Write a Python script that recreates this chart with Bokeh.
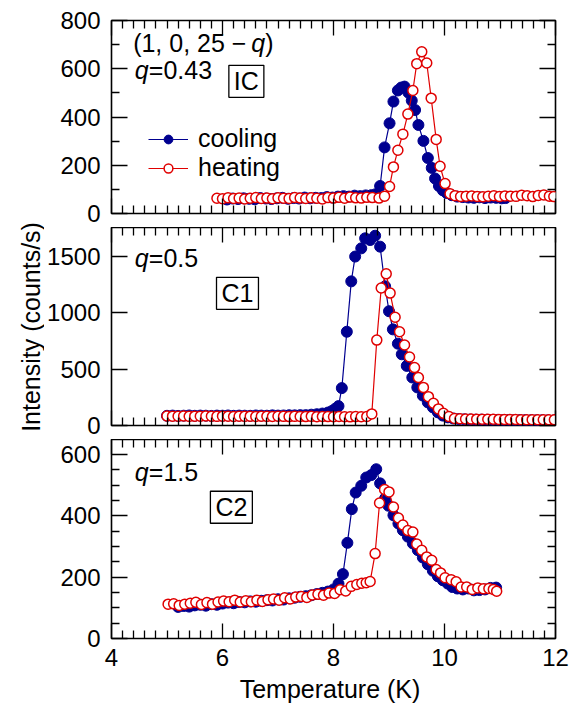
import math
from bokeh.plotting import figure
from bokeh.layouts import column, row
from bokeh.models import Range1d, LinearAxis, FixedTicker, Label, Legend, LegendItem
from bokeh.embed import file_html
from bokeh.resources import INLINE

# ---------------- data ----------------
# panel 1: (1, 0, 25-q), q = 0.43 (IC)
T_c1 = [6.08, 6.18, 6.28, 6.38, 6.48, 6.58, 6.68, 6.78, 6.88, 6.98, 7.08, 7.18, 7.28, 7.38, 7.48,
        7.58, 7.68, 7.78, 7.88, 7.98, 8.08, 8.18, 8.28, 8.38, 8.48, 8.58, 8.68, 8.76,
        8.84, 8.92, 9.01, 9.08, 9.16, 9.22, 9.28, 9.35, 9.41, 9.47, 9.53, 9.62, 9.70, 9.77, 9.83,
        9.90, 9.97, 10.04, 10.13, 10.23, 10.33, 10.43, 10.53, 10.63, 10.73, 10.83, 10.93, 11.03, 11.10]
I_c1 = [58, 62, 60, 63, 61, 59, 64, 62, 60, 63, 65, 61, 64, 62, 66,
        63, 65, 64, 68, 66, 70, 72, 70, 74, 72, 75, 76, 80,
        114, 274, 374, 464, 510, 522, 526, 501, 468, 429, 367, 301, 230, 189, 145,
        114, 96, 85, 76, 70, 68, 66, 65, 67, 64, 66, 65, 63, 64]
T_h1 = [5.90, 6.00, 6.10, 6.20, 6.30, 6.40, 6.50, 6.60, 6.70, 6.80, 6.90, 7.00, 7.10, 7.20, 7.30,
        7.40, 7.50, 7.60, 7.70, 7.80, 7.90, 8.00, 8.10, 8.20, 8.30, 8.40, 8.50, 8.60, 8.70, 8.82,
        8.92, 9.01, 9.08, 9.16, 9.25, 9.34, 9.43, 9.50, 9.59, 9.68, 9.76, 9.85, 9.92, 10.01, 10.10,
        10.19, 10.29, 10.39, 10.49, 10.59, 10.69, 10.79, 10.89, 10.99, 11.09, 11.19, 11.29, 11.39,
        11.49, 11.59, 11.69, 11.79, 11.89, 11.97]
I_h1 = [63, 61, 65, 62, 64, 60, 63, 66, 62, 64, 61, 65, 63, 62, 66,
        64, 62, 65, 63, 60, 66, 64, 67, 63, 68, 65, 64, 67, 66, 64,
        72, 112, 193, 262, 329, 412, 510, 621, 670, 624, 478, 307, 196, 124, 82,
        74, 70, 72, 73, 70, 69, 72, 74, 70, 73, 72, 71, 76,
        74, 70, 75, 77, 72, 70]

# panel 2: q = 0.5 (C1)
T_c2 = [5.0, 5.1, 5.2, 5.3, 5.4, 5.5, 5.6, 5.7, 5.8, 5.9, 6.0, 6.1, 6.2, 6.3, 6.4, 6.5, 6.6, 6.7,
        6.8, 6.9, 7.0, 7.1, 7.2, 7.3, 7.4,
        7.50, 7.60, 7.70, 7.80, 7.90, 7.97, 8.03, 8.09, 8.15, 8.24, 8.32, 8.39, 8.50, 8.57, 8.66,
        8.75, 8.84, 8.93, 9.00, 9.07, 9.16, 9.23, 9.32, 9.42, 9.51, 9.61, 9.70, 9.79, 9.88, 9.97,
        10.06, 10.16,
        10.26, 10.36, 10.46, 10.56, 10.66, 10.76, 10.86, 10.96, 11.06, 11.16, 11.26, 11.36, 11.46,
        11.56, 11.66, 11.76, 11.86, 11.98]
I_c2 = [86, 88, 85, 87, 89, 86, 88, 87, 85, 88, 87, 89, 86, 88, 87, 86, 89, 88,
        87, 90, 88, 89, 91, 90, 92,
        92, 96, 100, 106, 115, 128, 148, 172, 332, 832, 1279, 1499, 1572, 1661, 1646,
        1684, 1587, 1235, 1014, 853, 726, 632, 529, 426, 338, 265, 205, 161, 117, 88,
        72, 62,
        57, 55, 53, 52, 52, 51, 50, 50, 49, 49, 48, 48, 48,
        47, 47, 47, 46, 46]
T_h2 = [5.0, 5.1, 5.2, 5.3, 5.4, 5.5, 5.6, 5.7, 5.8, 5.9, 6.0, 6.1, 6.2, 6.3, 6.4, 6.5, 6.6, 6.7,
        6.8, 6.9, 7.0, 7.1, 7.2, 7.3, 7.4, 7.5, 7.6, 7.7, 7.8, 7.9, 8.0, 8.1, 8.2, 8.3, 8.4, 8.5, 8.6,
        8.69, 8.78, 8.86, 8.95, 9.02, 9.11, 9.19, 9.28, 9.37, 9.46, 9.53, 9.62, 9.71, 9.80, 9.89,
        9.98, 10.08, 10.18,
        10.28, 10.38, 10.48, 10.58, 10.68, 10.78, 10.88, 10.98, 11.08, 11.18, 11.28, 11.38, 11.48,
        11.58, 11.68, 11.78, 11.88, 11.98]
I_h2 = [84, 83, 82, 84, 81, 83, 82, 84, 82, 81, 83, 82, 80, 82, 81, 83, 80, 82,
        81, 80, 82, 81, 79, 81, 80, 79, 81, 78, 80, 79, 78, 80, 78, 77, 79, 78, 80,
        103, 758, 1220, 1346, 1175, 961, 832, 714, 608, 514, 426, 338, 256, 197, 147,
        108, 79, 62,
        60, 58, 57, 56, 56, 55, 55, 54, 54, 53, 53, 52, 52,
        52, 51, 51, 50, 50]

# panel 3: q = 1.5 (C2)
T_c3 = [5.20, 5.30, 5.40, 5.50, 5.60, 5.70, 5.80, 5.90, 6.00, 6.10, 6.20, 6.30, 6.40, 6.50, 6.60,
        6.70, 6.80, 6.90, 7.00, 7.10, 7.20, 7.30, 7.40, 7.50, 7.60, 7.70, 7.80, 7.90, 8.00,
        8.09, 8.17, 8.25, 8.33, 8.40, 8.50, 8.59, 8.68, 8.77, 8.84, 8.93, 8.99, 9.08, 9.17, 9.25,
        9.34, 9.43, 9.52, 9.61, 9.70, 9.79, 9.88, 9.97, 10.06, 10.14,
        10.23, 10.33, 10.43, 10.53, 10.63, 10.73, 10.83, 10.93]
I_c3 = [103, 106, 104, 108, 110, 107, 112, 110, 114, 117, 115, 119, 118, 121, 120,
        123, 125, 124, 128, 127, 131, 133, 136, 138, 141, 145, 149, 153, 160,
        179, 210, 312, 422, 476, 498, 525, 533, 552, 506, 457, 433, 402, 375, 353,
        332, 310, 288, 264, 242, 221, 203, 190, 179, 168,
        163, 160, 163, 157, 158, 160, 165, 166]
T_h3 = [5.02, 5.12, 5.22, 5.32, 5.42, 5.52, 5.62, 5.72, 5.82, 5.92, 6.02, 6.12, 6.22, 6.32, 6.42,
        6.52, 6.62, 6.72, 6.82, 6.92, 7.02, 7.12, 7.22, 7.32, 7.42, 7.52, 7.62, 7.72, 7.82, 7.92,
        8.02, 8.12, 8.22, 8.32, 8.42,
        8.51, 8.59, 8.66, 8.75, 8.83, 8.92, 9.00, 9.08, 9.17, 9.25, 9.34, 9.43, 9.50, 9.59, 9.68,
        9.77, 9.85, 9.93, 10.01, 10.12, 10.21, 10.30, 10.40, 10.50, 10.60, 10.70, 10.80, 10.88, 10.94]
I_h3 = [112, 113, 108, 112, 115, 118, 111, 117, 112, 119, 122, 120, 125, 119, 123,
        120, 125, 121, 126, 129, 125, 133, 129, 135, 137, 134, 142, 144, 141, 148,
        147, 159, 155, 170, 176,
        180, 182, 186, 277, 442, 486, 478, 429, 393, 370, 352, 347, 308, 288, 266,
        255, 225, 214, 198, 192, 185, 168, 168, 160, 165, 162, 163, 160, 154]

x_major = [4, 6, 8, 10, 12]
x_minor = [4.2, 4.4, 4.6, 4.8, 5.0, 5.2, 5.4, 5.6, 5.8, 6.2, 6.4, 6.6, 6.8, 7.0, 7.2, 7.4, 7.6, 7.8,
           8.2, 8.4, 8.6, 8.8, 9.0, 9.2, 9.4, 9.6, 9.8, 10.2, 10.4, 10.6, 10.8, 11.0, 11.2, 11.4,
           11.6, 11.8]
y1_major = [0, 200, 400, 600, 800]
y1_minor = [100, 300, 500, 700]
y2_major = [0, 500, 1000, 1500]
y2_minor = []
y3_major = [0, 200, 400, 600]
y3_minor = [50, 100, 150, 250, 300, 350, 450, 500, 550]

FONT = "Liberation Sans"
BLUE = "#000090"
RED = "#e00000"
FS = "24px"
TFS = "25px"


def style_axis(ax, major, minor, tick_major, tick_minor, labels):
    ax.ticker = FixedTicker(ticks=major, minor_ticks=minor)
    ax.axis_line_color = None
    ax.major_tick_in = tick_major
    ax.major_tick_out = 0
    ax.minor_tick_in = tick_minor
    ax.minor_tick_out = 0
    ax.major_tick_line_color = "black"
    ax.minor_tick_line_color = "black"
    ax.major_tick_line_width = 1.3
    ax.minor_tick_line_width = 1.3
    if labels:
        ax.major_label_text_font = FONT
        ax.major_label_text_font_size = FS
        ax.major_label_text_color = "black"
    else:
        ax.major_label_text_color = None
        ax.major_label_standoff = 0


def panel(height, btop, bbot, ymax, ymaj, ymin, bottom_labels):
    p = figure(width=528, height=height, x_range=Range1d(4, 12), y_range=Range1d(0, ymax),
               output_backend="svg", toolbar_location=None,
               min_border_left=66, min_border_right=17, min_border_top=btop,
               min_border_bottom=bbot)
    p.grid.visible = False
    p.outline_line_color = "black"
    p.outline_line_width = 1.6
    p.outline_line_alpha = 1.0
    p.background_fill_color = "white"
    p.border_fill_color = "white"
    # left
    style_axis(p.yaxis[0], ymaj, ymin, 16, 8, True)
    p.yaxis[0].major_label_standoff = 11
    # bottom
    style_axis(p.xaxis[0], x_major, x_minor, 15, 8, bottom_labels)
    if bottom_labels:
        p.xaxis[0].major_label_standoff = 10
        p.xaxis[0].axis_label = "Temperature  (K)"
        p.xaxis[0].axis_label_text_font = FONT
        p.xaxis[0].axis_label_text_font_size = TFS
        p.xaxis[0].axis_label_text_font_style = "normal"
        p.xaxis[0].axis_label_text_color = "black"
        p.xaxis[0].axis_label_standoff = 6
    # top & right
    top = LinearAxis()
    style_axis(top, x_major, x_minor, 15, 8, False)
    p.add_layout(top, "above")
    right = LinearAxis()
    style_axis(right, ymaj, ymin, 16, 8, False)
    p.add_layout(right, "right")
    return p


def curves(p, Tc, Ic, Th, Ih):
    lc = p.line(Tc, Ic, line_color=BLUE, line_width=1.2)
    sc = p.scatter(Tc, Ic, size=11, fill_color=BLUE, line_color=BLUE, marker="circle")
    lh = p.line(Th, Ih, line_color=RED, line_width=1.2)
    sh = p.scatter(Th, Ih, size=10, fill_color="white", line_color=RED, line_width=1.5,
                   marker="circle")
    return lc, sc, lh, sh


def txt(p, x, y, text, xoff=0, italic=False, box=False):
    kw = dict(x=x, y=y, text=text, x_offset=xoff, text_font=FONT, text_font_size=TFS,
              text_color="black", text_baseline="middle",
              text_align="center" if box else "left",
              text_font_style="italic" if italic else "normal")
    if box:
        kw.update(border_line_color="black", border_line_width=1.3,
                  background_fill_color="white", padding=(5, 2))
    p.add_layout(Label(**kw))


# panel 1
p1 = panel(227, 20, 14, 800, y1_major, y1_minor, False)
lc, sc, lh, sh = curves(p1, T_c1, I_c1, T_h1, I_h1)
txt(p1, 4.39, 708, "(1, 0, 25 \u2212")
txt(p1, 4.39, 708, "q", xoff=118, italic=True)
txt(p1, 4.39, 708, ")", xoff=132)
txt(p1, 4.42, 596, "q", italic=True)
txt(p1, 4.42, 596, "=0.43", xoff=14)
txt(p1, 6.43, 548, "IC", box=True)
legend = Legend(items=[LegendItem(label="cooling", renderers=[lc, sc]),
                       LegendItem(label="heating", renderers=[lh, sh])],
                location=(37, 31), border_line_color=None, background_fill_alpha=0,
                padding=0, margin=0, spacing=0, glyph_width=40, glyph_height=22,
                label_height=22, label_standoff=10, label_text_font=FONT,
                label_text_font_size=TFS, label_text_color="black",
                label_text_baseline="middle")
p1.add_layout(legend)

# panel 2
p2 = panel(212, 0, 14, 1757, y2_major, y2_minor, False)
curves(p2, T_c2, I_c2, T_h2, I_h2)
txt(p2, 4.42, 1484, "q", italic=True)
txt(p2, 4.42, 1484, "=0.5", xoff=14)
txt(p2, 6.27, 1173, "C1", box=True)

# panel 3
p3 = panel(269, 0, 70, 649, y3_major, y3_minor, True)
curves(p3, T_c3, I_c3, T_h3, I_h3)
txt(p3, 4.42, 544, "q", italic=True)
txt(p3, 4.42, 544, "=1.5", xoff=14)
txt(p3, 6.16, 428, "C2", box=True)

# y label strip
lab = figure(width=44, height=708, x_range=Range1d(0, 44), y_range=Range1d(0, 708),
             output_backend="svg", toolbar_location=None, x_axis_type=None, y_axis_type=None,
             min_border=0)
lab.grid.visible = False
lab.outline_line_color = None
lab.add_layout(Label(x=30, y=385, text="Intensity  (counts/s)", angle=math.pi / 2,
                     text_align="center", text_baseline="middle", text_font=FONT,
                     text_font_size=TFS, text_color="black"))

layout = row(lab, column(p1, p2, p3, spacing=0), spacing=0)
open("out.html", "w").write(file_html(layout, INLINE))
